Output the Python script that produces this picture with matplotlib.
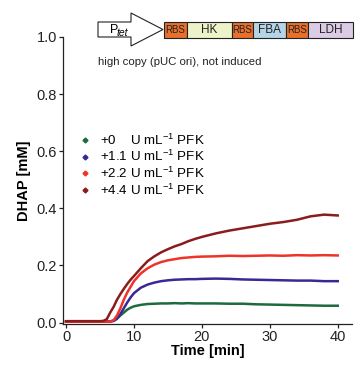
import numpy as np
import matplotlib
matplotlib.use("Agg")
import matplotlib.pyplot as plt
from matplotlib.patches import Polygon, Rectangle
from matplotlib.lines import Line2D

plt.rcParams['font.family'] = ['Liberation Sans', 'DejaVu Sans']
plt.rcParams['mathtext.default'] = 'regular'

# Daten (Zeit in min, DHAP in mM)
t = [0, 2, 4, 5, 5.5, 6, 6.5, 7, 7.5, 8, 8.5, 9, 9.5, 10, 11, 12, 13, 14, 15,
     16, 17, 18, 19, 20, 22, 24, 26, 28, 30, 32, 34, 36, 38, 40]
pfk_0 = [0.003, 0.003, 0.003, 0.003, 0.003, 0.003, 0.004, 0.006, 0.013, 0.025,
         0.035, 0.045, 0.052, 0.057, 0.062, 0.065, 0.066, 0.067, 0.067,
         0.068, 0.067, 0.068, 0.067, 0.067, 0.067, 0.066, 0.066, 0.064, 0.063,
         0.062, 0.061, 0.060, 0.059, 0.059]
pfk_11 = [0.003, 0.003, 0.003, 0.003, 0.003, 0.003, 0.004, 0.006, 0.015, 0.030,
          0.050, 0.070, 0.088, 0.103, 0.122, 0.133, 0.140, 0.145, 0.148,
          0.150, 0.151, 0.152, 0.152, 0.153, 0.154, 0.153, 0.151, 0.150, 0.149,
          0.148, 0.147, 0.147, 0.145, 0.145]
pfk_22 = [0.003, 0.003, 0.003, 0.003, 0.003, 0.003, 0.004, 0.008, 0.025, 0.050,
          0.080, 0.105, 0.125, 0.145, 0.172, 0.190, 0.203, 0.212, 0.218,
          0.222, 0.226, 0.228, 0.230, 0.231, 0.232, 0.234, 0.233, 0.234, 0.235,
          0.234, 0.236, 0.235, 0.236, 0.235]
pfk_44 = [0.005, 0.005, 0.005, 0.005, 0.006, 0.012, 0.035, 0.055, 0.080, 0.100,
          0.118, 0.135, 0.150, 0.163, 0.190, 0.215, 0.232, 0.246, 0.257,
          0.267, 0.275, 0.285, 0.293, 0.300, 0.312, 0.322, 0.330, 0.338, 0.346,
          0.352, 0.360, 0.372, 0.378, 0.375]

serien = [pfk_0, pfk_11, pfk_22, pfk_44]
farben = ['#1b6b3c', '#3a2896', '#ee3328', '#8a1c1c']
etiketten = ['+0    U mL$^{-1}$ PFK', '+1.1 U mL$^{-1}$ PFK',
             '+2.2 U mL$^{-1}$ PFK', '+4.4 U mL$^{-1}$ PFK']

W, H = 355, 365
fig = plt.figure(figsize=(W / 100, H / 100), dpi=100)
ax = fig.add_axes([63 / W, 1 - 324 / H, 289 / W, 287 / H])

for y, c in zip(serien, farben):
    ax.plot(t, y, color=c, lw=1.8)

ax.set_xlim(-0.45, 42.1)
ax.set_ylim(-0.005, 1.0)
ax.set_xticks([0, 10, 20, 30, 40])
ax.set_yticks([0.0, 0.2, 0.4, 0.6, 0.8, 1.0])
ax.set_yticklabels(['0.0', '0.2', '0.4', '0.6', '0.8', '1.0'])
for s in ['top', 'right']:
    ax.spines[s].set_visible(False)
for s in ['left', 'bottom']:
    ax.spines[s].set_linewidth(0.9)
    ax.spines[s].set_color('#222222')
ax.tick_params(labelsize=10.5, length=3, width=0.9, color='#222222', labelcolor='#222222', pad=1.5)
ax.set_xlabel('Time [min]', fontsize=10.5, fontweight='bold', labelpad=0)
ax.set_ylabel('DHAP [mM]', fontsize=10.5, fontweight='bold', labelpad=4)

handles = [Line2D([], [], marker='D', ms=2.5, ls='none', color=c) for c in farben]
ax.legend(handles, etiketten, loc='upper left', bbox_to_anchor=(0.035, 0.685),
          frameon=False, fontsize=9.6, handlelength=1.0, handletextpad=0.6,
          labelspacing=0.1, borderaxespad=0)

# Konstrukt-Schema oben
ov = fig.add_axes([0, 0, 1, 1])
ov.set_xlim(0, W)
ov.set_ylim(H, 0)
ov.axis('off')
ov.add_patch(Polygon([(98, 22), (131, 22), (131, 13), (163, 29.5), (131, 46),
                      (131, 37), (98, 37)], closed=True, fc='white', ec='#222222', lw=0.8))
ov.text(110, 30, 'P', fontsize=9, va='center', ha='left')
ov.text(117, 33, 'tet', fontsize=7.5, style='italic', va='center', ha='left')

boxen = [(164, 186.7, 'RBS', '#e8702a'), (186.7, 231.7, 'HK', '#eef2c9'),
         (231.7, 253.3, 'RBS', '#e8702a'), (253.3, 286, 'FBA', '#b5d5e7'),
         (286, 308.3, 'RBS', '#e8702a'), (308.3, 353, 'LDH', '#dccbe5')]
for x0, x1, name, fc in boxen:
    ov.add_patch(Rectangle((x0, 22), x1 - x0, 16, fc=fc, ec='#222222', lw=0.8))
    fs = 7 if name == 'RBS' else 8.5
    ov.text((x0 + x1) / 2, 30, name, fontsize=fs, ha='center', va='center', color='#222222')
ov.text(98, 62, 'high copy (pUC ori), not induced', fontsize=8.2, va='center', color='#222222')

fig.savefig('out.png', dpi=100)
